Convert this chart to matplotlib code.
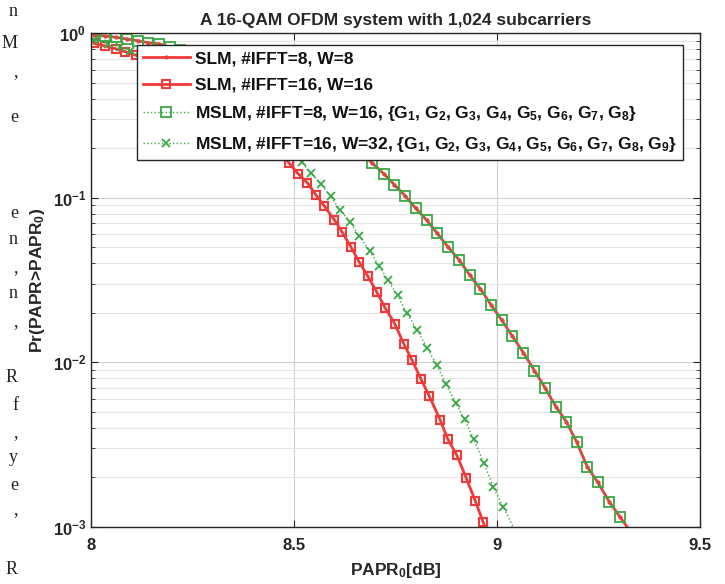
import numpy as np
import matplotlib
matplotlib.use("Agg")
import matplotlib.pyplot as plt
from matplotlib.ticker import LogLocator, NullFormatter

plt.rcParams['font.family'] = ['Liberation Sans', 'DejaVu Sans']
plt.rcParams['font.weight'] = 'bold'
plt.rcParams['mathtext.fontset'] = 'custom'
plt.rcParams['mathtext.rm'] = 'Liberation Sans:bold'
plt.rcParams['mathtext.it'] = 'Liberation Sans:bold'
plt.rcParams['mathtext.bf'] = 'Liberation Sans:bold'

# CCDF curves
slm8_x = [8.007, 8.035, 8.061, 8.088, 8.115, 8.141, 8.168, 8.195, 8.22, 8.25, 8.30, 8.35,
          8.40, 8.45, 8.50, 8.55, 8.60, 8.64, 8.667, 8.693, 8.722, 8.747, 8.773, 8.800,
          8.827, 8.852, 8.879, 8.906, 8.933, 8.959, 8.985, 9.012, 9.038, 9.065, 9.092,
          9.118, 9.145, 9.171, 9.196, 9.222, 9.248, 9.277, 9.303, 9.33]
slm8_y = [0.972, 0.959, 0.942, 0.920, 0.898, 0.873, 0.858, 0.822, 0.785, 0.741, 0.676, 0.603,
          0.525, 0.452, 0.380, 0.309, 0.251, 0.209, 0.185, 0.162, 0.139, 0.120, 0.103,
          0.0861, 0.0729, 0.0611, 0.0503, 0.0421, 0.0338, 0.0280, 0.0224, 0.0180, 0.0144,
          0.01145, 0.00892, 0.00703, 0.00539, 0.00435, 0.00329, 0.00233, 0.00187, 0.00142,
          0.00115, 0.00093]

slm16_x = [8.007, 8.035, 8.061, 8.084, 8.11, 8.15, 8.20, 8.25, 8.30, 8.35, 8.40, 8.44, 8.465,
           8.488, 8.511, 8.533, 8.554, 8.575, 8.599, 8.619, 8.640, 8.660, 8.682, 8.704,
           8.724, 8.749, 8.771, 8.791, 8.813, 8.833, 8.860, 8.879, 8.901, 8.924, 8.947,
           8.966, 8.99]
slm16_y = [0.866, 0.834, 0.803, 0.770, 0.733, 0.661, 0.582, 0.507, 0.427, 0.351, 0.279, 0.224,
           0.191, 0.162, 0.139, 0.123, 0.104, 0.0886, 0.0736, 0.0616, 0.0503, 0.0409,
           0.0333, 0.0267, 0.0215, 0.0170, 0.01285, 0.01028, 0.00789, 0.00625, 0.00447,
           0.00341, 0.00273, 0.00199, 0.00143, 0.00107, 0.00074]

# MSLM with 8 IFFTs lies on top of the SLM #IFFT=8 curve
mslm8_x = slm8_x[:-1]
mslm8_y = slm8_y[:-1]

mslm16_x = [8.007, 8.043, 8.071, 8.096, 8.15, 8.20, 8.25, 8.30, 8.35, 8.40, 8.45, 8.49, 8.519,
            8.542, 8.566, 8.590, 8.613, 8.638, 8.661, 8.686, 8.709, 8.732, 8.755, 8.778,
            8.803, 8.827, 8.852, 8.874, 8.898, 8.920, 8.943, 8.968, 8.991, 9.016, 9.045]
mslm16_y = [0.907, 0.858, 0.826, 0.781, 0.684, 0.610, 0.537, 0.462, 0.389, 0.316, 0.248, 0.195,
            0.164, 0.141, 0.121, 0.102, 0.0846, 0.0713, 0.0583, 0.0477, 0.0387, 0.0315,
            0.0255, 0.0198, 0.0158, 0.0123, 0.00959, 0.00743, 0.00570, 0.00451, 0.00341,
            0.00244, 0.00174, 0.00132, 0.00094]

labels = ['SLM, #IFFT=8, W=8',
          'SLM, #IFFT=16, W=16',
          'MSLM, #IFFT=8, W=16, {G$_1$, G$_2$, G$_3$, G$_4$, G$_5$, G$_6$, G$_7$, G$_8$}',
          'MSLM, #IFFT=16, W=32, {G$_1$, G$_2$, G$_3$, G$_4$, G$_5$, G$_6$, G$_7$, G$_8$, G$_9$}']

x_ticks = [8, 8.5, 9, 9.5]
x_ticklabels = ['8', '8.5', '9', '9.5']
y_ticks = [1e-3, 1e-2, 1e-1, 1]
y_ticklabels = ['$10^{-3}$', '$10^{-2}$', '$10^{-1}$', '$10^{0}$']

# bits of the paper's body text cut off at the left edge
margin_chars = ['n', 'M', ',', 'e', 'e', 'n', ',', 'n', ',', 'R', 'f', ',', 'y', 'e', ',', 'R']
margin_rows = [12, 43, 72, 117, 213, 240, 268, 294, 322, 378, 405, 433, 458, 485, 510, 570]

red = '#f03a3a'
green = '#3aa845'
axcol = '#262626'

fig = plt.figure(figsize=(7.25, 5.84), dpi=100)
ax = fig.add_axes([0.1255, 0.0976, 0.84, 0.8459])

ax.plot(slm8_x, slm8_y, '-', color=red, lw=2, marker='.', ms=4, label=labels[0])
ax.plot(slm16_x, slm16_y, '-', color=red, lw=2, marker='s', ms=6, mfc='none', mew=1.5,
        label=labels[1])
ax.plot(mslm8_x, mslm8_y, ':', color=green, lw=1, marker='s', ms=6.5, mfc='none', mew=1.3,
        label=labels[2])
ax.plot(mslm16_x, mslm16_y, ':', color=green, lw=1, marker='x', ms=5.5, mew=1.3,
        label=labels[3])

ax.set_yscale('log')
ax.set_xlim(8, 9.5)
ax.set_ylim(1e-3, 1)
ax.set_xticks(x_ticks)
ax.set_xticklabels(x_ticklabels)
ax.set_yticks(y_ticks)
ax.set_yticklabels(y_ticklabels)
ax.yaxis.set_minor_locator(LogLocator(base=10, subs=np.arange(2, 10)))
ax.yaxis.set_minor_formatter(NullFormatter())

ax.grid(True, which='major', color='#d0d0d0', lw=0.8)
ax.grid(True, which='minor', axis='y', color='#e4e4e4', lw=0.8)
ax.tick_params(which='both', direction='in', top=True, right=True, colors=axcol,
               labelsize=12)
ax.tick_params(which='major', length=5, width=0.8)
ax.tick_params(which='minor', length=3, width=0.6)
ax.tick_params(axis='x', pad=8)
for s in ax.spines.values():
    s.set_color(axcol)
    s.set_linewidth(1)

ax.set_title('A 16-QAM OFDM system with 1,024 subcarriers', fontsize=12.5, fontweight='bold',
             color=axcol, pad=6)
ax.set_xlabel('PAPR$_0$[dB]', fontsize=12.5, fontweight='bold', color=axcol, labelpad=6)
ax.set_ylabel('Pr(PAPR>PAPR$_0$)', fontsize=12.5, fontweight='bold', color=axcol, labelpad=4)

leg = ax.legend(loc='upper left', bbox_to_anchor=(0.0755, 0.976), fontsize=12.5,
                frameon=True, fancybox=False, framealpha=1, edgecolor=axcol,
                handlelength=2.7, handletextpad=0.3, labelspacing=0.66, borderpad=0.35,
                borderaxespad=0)
leg.get_frame().set_linewidth(1)
for t in leg.get_texts():
    t.set_color('#111111')

for ch, row in zip(margin_chars, margin_rows):
    fig.text(18 / 725, 1 - row / 584, ch, ha='right', va='center', fontsize=13,
             family='Liberation Serif', fontweight='normal', color='#222222')

fig.savefig('out.png', dpi=100)
